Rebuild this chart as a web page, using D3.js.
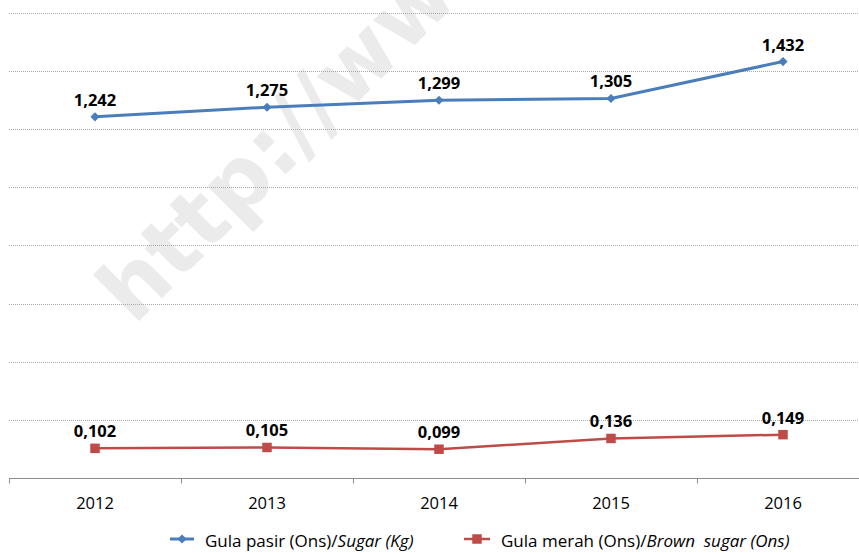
<!DOCTYPE html>
<html>
<head>
<meta charset="utf-8">
<script src="https://cdn.jsdelivr.net/npm/d3@7"></script>
<style>
  body { margin: 0; background: #fff; }
  text { font-family: "Open Sans", Lato, sans-serif; }
</style>
</head>
<body>
<div class="chart"></div>
<script>
var width = 859,
  height = 553;

// data
var years = ['2012', '2013', '2014', '2015', '2016'];
var gulaPasir = [1.242, 1.275, 1.299, 1.305, 1.432];
var gulaMerah = [0.102, 0.105, 0.099, 0.136, 0.149];
var gridTicks = [0, 0.2, 0.4, 0.6, 0.8, 1.0, 1.2, 1.4, 1.6];

var fmt = function(v) { return d3.format('.3f')(v).replace('.', ','); };

var svg = d3.select('.chart')
  .append('svg')
  .attr('width', width)
  .attr('height', height);

// SCALES
var xScale = d3.scaleBand()
  .domain(years)
  .range([9, 869])
  .padding(0);

var yScale = d3.scaleLinear()
  .domain([0, 1.6])
  .range([478, 12.7]);

var cx = function(i) { return xScale(years[i]) + xScale.bandwidth() / 2; };

// watermark
svg.append('text')
  .attr('transform', 'translate(134,326) rotate(-45)')
  .style('font-family', '"DejaVu Sans", sans-serif')
  .style('font-weight', 'bold')
  .style('font-size', '86px')
  .attr('fill', '#ebebeb')
  .text('http://www');

// GRID
svg.selectAll('.grid')
  .data(gridTicks.slice(1))
  .enter()
  .append('line')
  .attr('class', 'grid')
  .attr('x1', 9)
  .attr('x2', width)
  .attr('y1', function(d) { return Math.round(yScale(d)) + 0.5; })
  .attr('y2', function(d) { return Math.round(yScale(d)) + 0.5; })
  .attr('stroke', '#a8a8a8')
  .attr('stroke-dasharray', '1,1');

// X AXIS
var xAxis = d3.axisBottom(xScale).tickSize(0).tickPadding(19);
var xAxisG = svg.append('g')
  .attr('class', 'xAxis')
  .attr('transform', 'translate(0,' + (Math.round(yScale(0)) + 0.5) + ')')
  .call(xAxis);
xAxisG.select('.domain').remove();
xAxisG.selectAll('text')
  .style('font-family', '"Open Sans", sans-serif')
  .style('font-size', '16.5px')
  .attr('fill', '#000');

xAxisG.append('line')
  .attr('x1', 9).attr('x2', width)
  .attr('stroke', '#8c8c8c');

xAxisG.selectAll('.edge')
  .data(years)
  .enter()
  .append('line')
  .attr('class', 'edge')
  .attr('x1', function(d) { return Math.round(xScale(d)) + 0.5; })
  .attr('x2', function(d) { return Math.round(xScale(d)) + 0.5; })
  .attr('y1', 0).attr('y2', 5)
  .attr('stroke', '#8c8c8c');

// LINES
var line = d3.line()
  .x(function(d, i) { return cx(i); })
  .y(function(d) { return yScale(d); });

var series = [
  { values: gulaPasir, color: '#4a7ebb', width: 3, symbol: d3.symbolSquare, rot: 45, size: 42, name: 'Gula pasir (Ons)/', italic: 'Sugar (Kg)' },
  { values: gulaMerah, color: '#be4b48', width: 2.5, symbol: d3.symbolSquare, rot: 0, size: 90, name: 'Gula merah (Ons)/', italic: 'Brown  sugar (Ons)' }
];

series.forEach(function(s) {
  svg.append('path')
    .datum(s.values)
    .attr('d', line)
    .attr('fill', 'none')
    .attr('stroke', s.color)
    .attr('stroke-width', s.width);

  svg.selectAll(null)
    .data(s.values)
    .enter()
    .append('path')
    .attr('d', d3.symbol().type(s.symbol).size(s.size))
    .attr('transform', function(d, i) { return 'translate(' + cx(i) + ',' + yScale(d) + ') rotate(' + s.rot + ')'; })
    .attr('fill', s.color);

  svg.selectAll(null)
    .data(s.values)
    .enter()
    .append('text')
    .attr('x', function(d, i) { return cx(i); })
    .attr('y', function(d) { return yScale(d) - 11; })
    .attr('text-anchor', 'middle')
    .style('font-weight', 'bold')
    .style('font-size', '16.5px')
    .text(fmt);
});

// LEGEND
var legendPos = [{ x: 170, w: 24, tx: 205 }, { x: 464, w: 26, tx: 501 }];
series.forEach(function(s, i) {
  var p = legendPos[i];
  var g = svg.append('g').attr('transform', 'translate(0,539)');
  g.append('line')
    .attr('x1', p.x).attr('x2', p.x + p.w)
    .attr('stroke', s.color).attr('stroke-width', s.width);
  g.append('path')
    .attr('d', d3.symbol().type(s.symbol).size(s.size))
    .attr('transform', 'translate(' + (p.x + p.w / 2) + ',0) rotate(' + s.rot + ')')
    .attr('fill', s.color);
  var t = g.append('text')
    .attr('x', p.tx).attr('y', 8)
    .style('font-size', '17px')
    .style('white-space', 'pre');
  t.append('tspan').text(s.name);
  t.append('tspan').style('font-style', 'italic').text(s.italic);
});
</script>
</body>
</html>
